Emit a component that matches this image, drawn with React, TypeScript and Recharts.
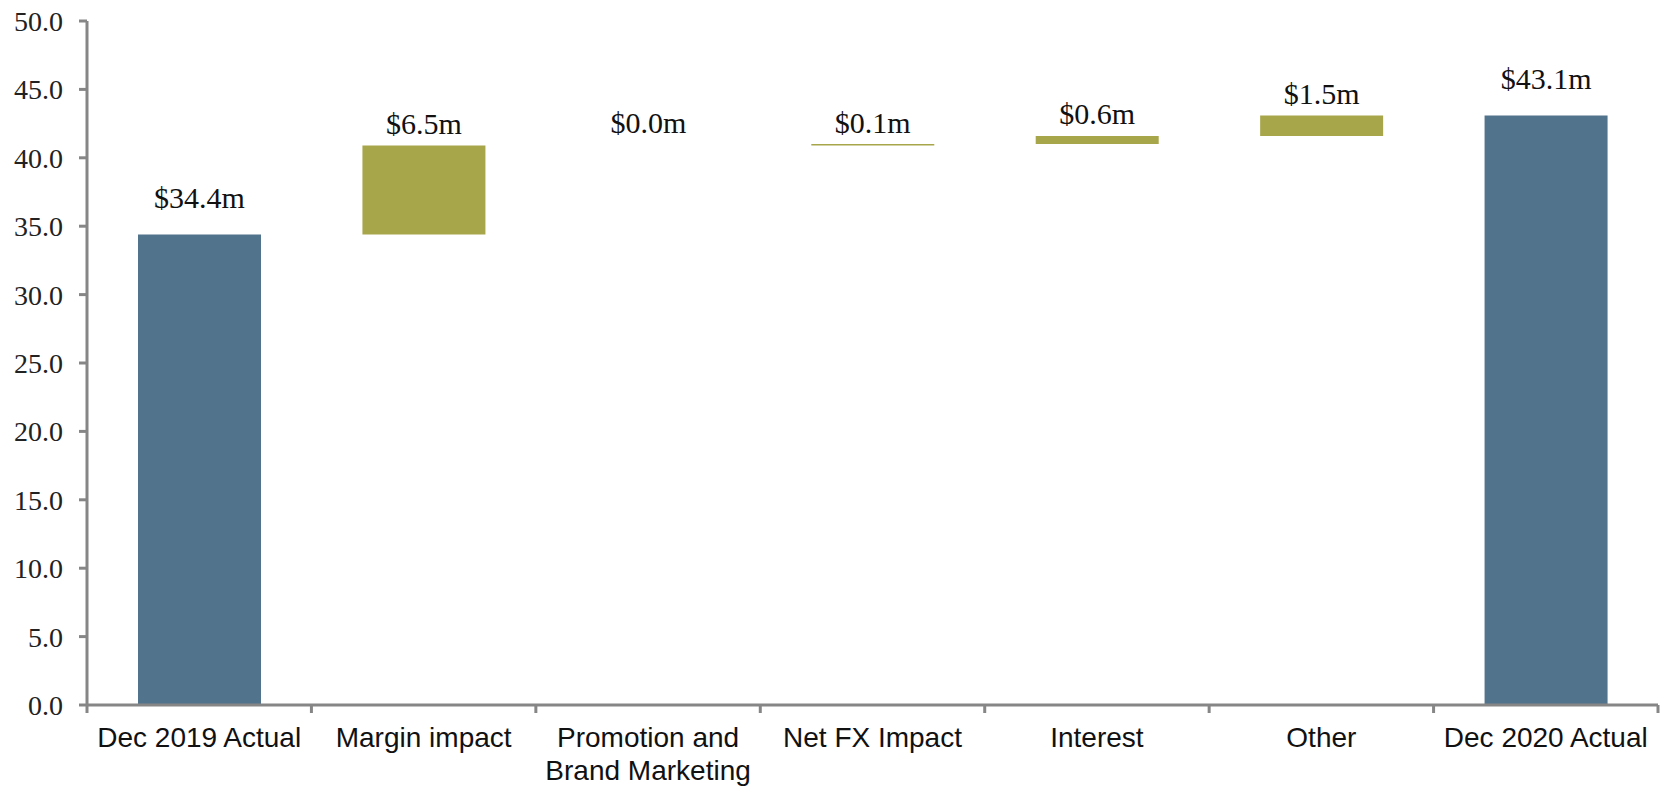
import { BarChart, Bar, XAxis, YAxis, Cell, LabelList } from "recharts";

const categories = [
  "Dec 2019 Actual",
  "Margin impact",
  "Promotion and\nBrand Marketing",
  "Net FX Impact",
  "Interest",
  "Other",
  "Dec 2020 Actual",
];
const amounts = [34.4, 6.5, 0.0, 0.1, 0.6, 1.5, 43.1];
const isTotal = [true, false, false, false, false, false, true];
const yTicks = [0, 5, 10, 15, 20, 25, 30, 35, 40, 45, 50];

const W = 1668;
const H = 786;
const Y_AXIS_W = 79;
const MARGIN = { top: 21, right: 10, bottom: 0, left: 8 };
const BAND = (W - Y_AXIS_W - MARGIN.left - MARGIN.right) / categories.length;

const BLUE = "#52738C";
const OLIVE = "#A8A64A";
const AXIS = "#868686";

// running total gives the invisible base under each step
let running = 0;
const rows = categories.map((name, i) => {
  const base = isTotal[i] ? 0 : running;
  running = isTotal[i] ? amounts[i] : running + amounts[i];
  return { name, base, delta: amounts[i], total: isTotal[i] };
});

function CategoryTick(props: any) {
  const { x, y, payload, index } = props;
  const lines = String(payload.value).split("\n");
  return (
    <g>
      <line x1={x - BAND / 2} x2={x - BAND / 2} y1={y} y2={y + 8} stroke={AXIS} strokeWidth={3} />
      {index === categories.length - 1 && (
        <line x1={x + BAND / 2} x2={x + BAND / 2} y1={y} y2={y + 8} stroke={AXIS} strokeWidth={3} />
      )}
      <text
        x={x}
        y={y + 42}
        textAnchor="middle"
        fill="#111"
        style={{ fontFamily: "'Liberation Sans', Arial, sans-serif", fontSize: 28 }}
      >
        {lines.map((l, k) => (
          <tspan key={k} x={x} dy={k === 0 ? 0 : 33}>
            {l}
          </tspan>
        ))}
      </text>
    </g>
  );
}

function ValueLabel(props: any) {
  const { x, y, width, value, index } = props;
  const lift = isTotal[index] ? 37 : 22;
  return (
    <text
      x={x + width / 2}
      y={y - lift}
      textAnchor="middle"
      dominantBaseline="central"
      fill="#111"
      style={{ fontFamily: "'Liberation Serif', 'Times New Roman', serif", fontSize: 30 }}
    >
      {"$" + Number(value).toFixed(1) + "m"}
    </text>
  );
}

export default function App() {
  return (
    <div style={{ width: W, height: H, margin: "-8px 0 0 -8px", background: "#fff" }}>
      <BarChart width={W} height={H} data={rows} margin={MARGIN} barSize={123}>
        <XAxis
          dataKey="name"
          height={81}
          interval={0}
          axisLine={{ stroke: AXIS, strokeWidth: 3 }}
          tickLine={false}
          tickSize={0}
          tickMargin={0}
          tick={<CategoryTick />}
        />
        <YAxis
          width={Y_AXIS_W}
          domain={[0, 50]}
          ticks={yTicks}
          interval={0}
          tickFormatter={(v: number) => v.toFixed(1)}
          axisLine={{ stroke: AXIS, strokeWidth: 3 }}
          tickLine={{ stroke: AXIS, strokeWidth: 3 }}
          tickSize={8}
          tickMargin={16}
          tick={{ fill: "#222", fontSize: 28, fontFamily: "'Liberation Serif', 'Times New Roman', serif" }}
        />
        <Bar dataKey="base" stackId="w" fill="transparent" isAnimationActive={false} />
        <Bar dataKey="delta" stackId="w" minPointSize={1} isAnimationActive={false}>
          {rows.map((r, i) => (
            <Cell key={i} fill={r.delta === 0 ? "transparent" : r.total ? BLUE : OLIVE} />
          ))}
          <LabelList dataKey="delta" content={<ValueLabel />} />
        </Bar>
      </BarChart>
    </div>
  );
}
